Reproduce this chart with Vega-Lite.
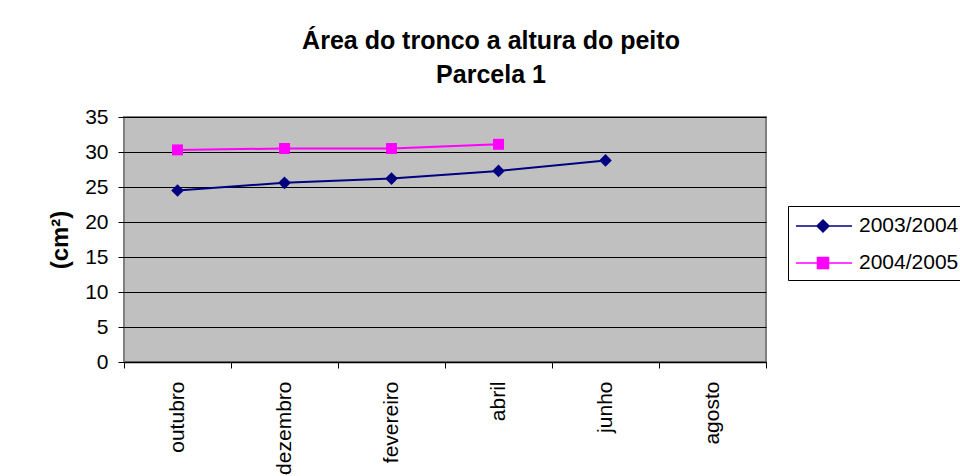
{
  "$schema": "https://vega.github.io/schema/vega-lite/v6.json",
  "width": 642,
  "height": 245,
  "autosize": {"type": "none"},
  "padding": {"left": 124, "top": 117, "right": 194, "bottom": 114},
  "background": "white",
  "title": {
    "text": ["Área do tronco a altura do peito", "Parcela 1"],
    "font": "Liberation Sans",
    "fontSize": 25,
    "fontWeight": "bold",
    "color": "black",
    "lineHeight": 34,
    "anchor": "middle",
    "dx": 46,
    "offset": 18
  },
  "data": {
    "values": [
      {"mes": "outubro", "serie": "2003/2004", "area": 24.5},
      {"mes": "dezembro", "serie": "2003/2004", "area": 25.6},
      {"mes": "fevereiro", "serie": "2003/2004", "area": 26.2},
      {"mes": "abril", "serie": "2003/2004", "area": 27.3},
      {"mes": "junho", "serie": "2003/2004", "area": 28.8},
      {"mes": "outubro", "serie": "2004/2005", "area": 30.3},
      {"mes": "dezembro", "serie": "2004/2005", "area": 30.5},
      {"mes": "fevereiro", "serie": "2004/2005", "area": 30.5},
      {"mes": "abril", "serie": "2004/2005", "area": 31.1}
    ]
  },
  "encoding": {
    "x": {
      "field": "mes",
      "type": "nominal",
      "scale": {
        "type": "band",
        "domain": ["outubro", "dezembro", "fevereiro", "abril", "junho", "agosto"],
        "paddingInner": 0,
        "paddingOuter": 0
      },
      "axis": {
        "title": null,
        "tickBand": "extent",
        "tickSize": 6,
        "tickColor": "black",
        "domainColor": "black",
        "domainWidth": 1.5,
        "labelAngle": -90,
        "labelFont": "Liberation Sans",
        "labelFontSize": 21,
        "labelColor": "black",
        "labelPadding": 13,
        "grid": false
      }
    },
    "y": {
      "field": "area",
      "type": "quantitative",
      "scale": {"domain": [0, 35], "nice": false},
      "axis": {
        "values": [0, 5, 10, 15, 20, 25, 30, 35],
        "title": "(cm²)",
        "titleFont": "Liberation Sans",
        "titleFontSize": 24,
        "titleFontWeight": "bold",
        "titleColor": "black",
        "titlePadding": 12,
        "grid": true,
        "gridColor": "black",
        "gridWidth": 1,
        "domain": false,
        "tickSize": 6,
        "tickColor": "black",
        "labelFont": "Liberation Sans",
        "labelFontSize": 21,
        "labelColor": "black",
        "labelPadding": 10
      }
    },
    "color": {
      "field": "serie",
      "type": "nominal",
      "scale": {"domain": ["2003/2004", "2004/2005"], "range": ["#000080", "#FF00FF"]},
      "legend": {
        "title": null,
        "orient": "none",
        "legendX": 664,
        "legendY": 89,
        "padding": 7,
        "strokeColor": "black",
        "fillColor": "white",
        "labelFont": "Liberation Sans",
        "labelFontSize": 21,
        "labelColor": "black",
        "labelOffset": 38,
        "rowPadding": 14,
        "symbolSize": 576,
        "symbolType": {"expr": "datum.value === '2003/2004' ? 'M-1,0H3.67M1.25,-0.5L1.75,0L1.25,0.5L0.75,0ZM1.25,-0.375L1.625,0L1.25,0.375L0.875,0ZM1.25,-0.25L1.5,0L1.25,0.25L1,0ZM1.25,-0.125L1.375,0L1.25,0.125L1.125,0Z' : 'M-1,0H3.67M0.79,-0.46H1.71V0.46H0.79ZM0.91,-0.34H1.59V0.34H0.91ZM1.03,-0.22H1.47V0.22H1.03ZM1.15,-0.1H1.35V0.1H1.15Z'"}
      }
    }
  },
  "layer": [
    {"mark": {"type": "line", "strokeWidth": 2}},
    {
      "transform": [{"filter": "datum.serie === '2003/2004'"}],
      "mark": {"type": "point", "shape": "diamond", "size": 160, "filled": true, "opacity": 1}
    },
    {
      "transform": [{"filter": "datum.serie === '2004/2005'"}],
      "mark": {"type": "point", "shape": "square", "size": 120, "filled": true, "opacity": 1}
    }
  ],
  "config": {
    "view": {"fill": "#C0C0C0", "stroke": "#808080", "strokeWidth": 2},
    "font": "Liberation Sans"
  }
}
